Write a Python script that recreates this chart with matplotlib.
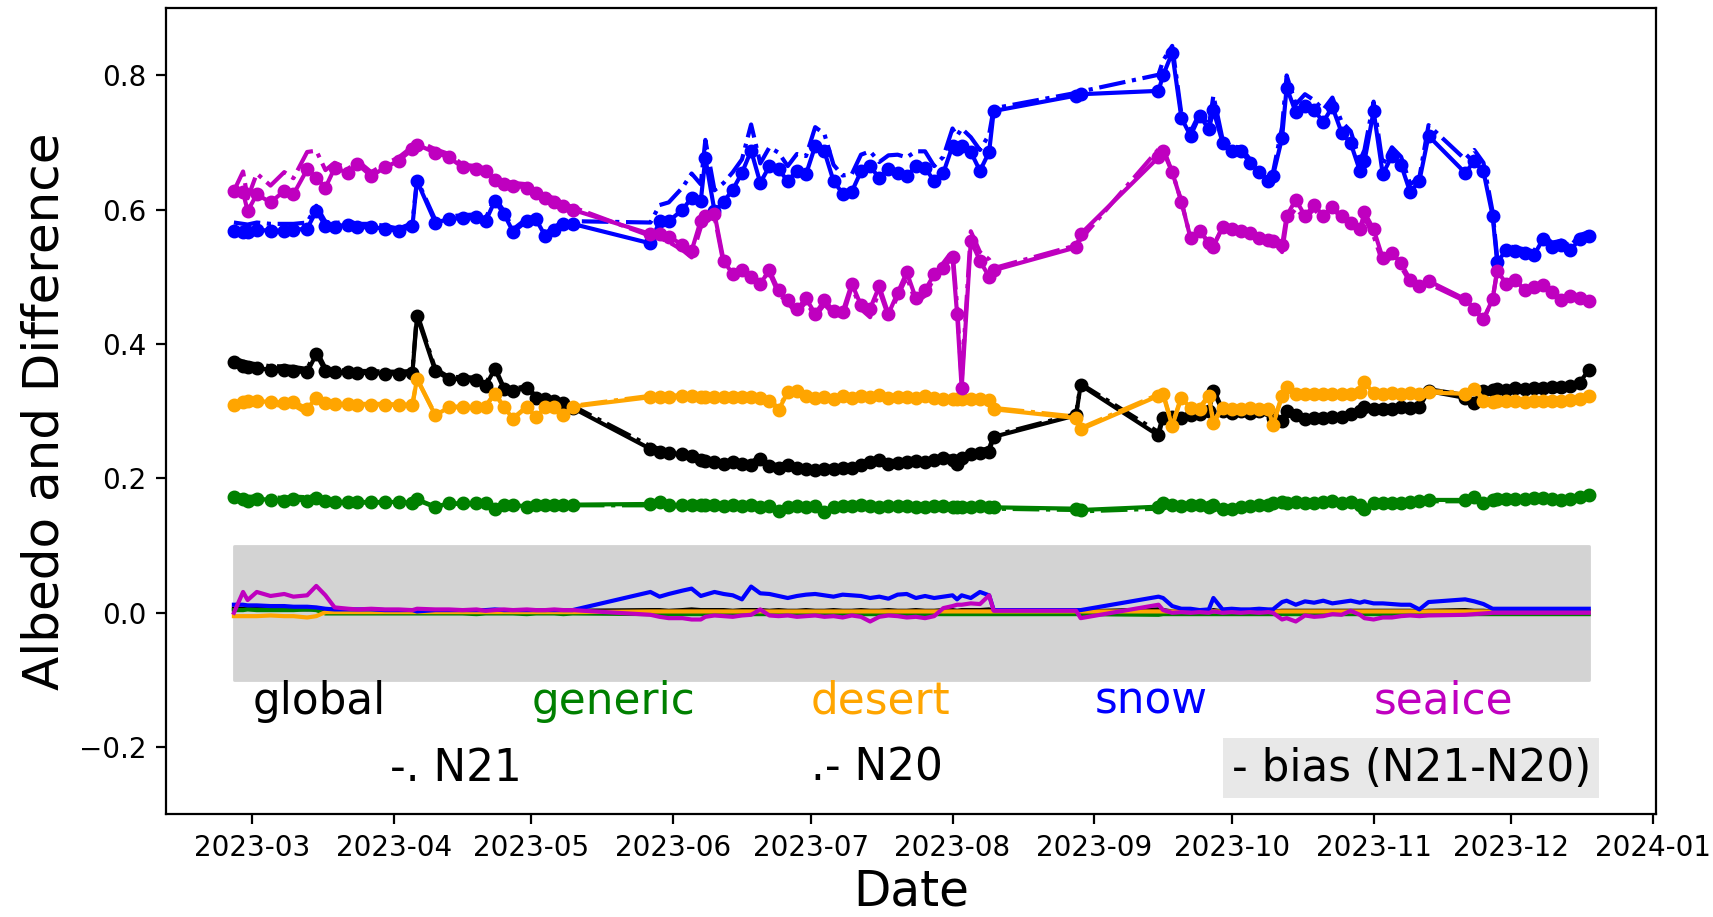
import matplotlib
matplotlib.use("Agg")
import matplotlib.pyplot as plt
import matplotlib.dates as mdates
import numpy as np

# sample dates (2023), grouped by the dense stretches of data
dates_md = [
    # Feb 25 - May 10
    "02-25", "02-27", "02-28", "03-02", "03-05", "03-08", "03-10", "03-13",
    "03-15", "03-17", "03-19", "03-22", "03-24", "03-27", "03-30", "04-02",
    "04-05", "04-06", "04-10", "04-13", "04-16", "04-19", "04-21", "04-23",
    "04-25", "04-27", "04-30", "05-02", "05-04", "05-06", "05-08", "05-10",
    # May 27 - Aug 10
    "05-27", "05-29", "05-31", "06-03", "06-05", "06-07", "06-08", "06-10",
    "06-12", "06-14", "06-16", "06-18", "06-20", "06-22", "06-24", "06-26",
    "06-28", "06-30", "07-02", "07-04", "07-06", "07-08", "07-10", "07-12",
    "07-14", "07-16", "07-18", "07-20", "07-22", "07-24", "07-26", "07-28",
    "07-30", "08-01", "08-02", "08-03", "08-05", "08-07", "08-09", "08-10",
    # end of Aug
    "08-28", "08-29",
    # Sep 15 - Dec 18
    "09-15", "09-16", "09-18", "09-20", "09-22", "09-24", "09-26", "09-27",
    "09-29", "10-01", "10-03", "10-05", "10-07", "10-09", "10-10", "10-12",
    "10-13", "10-15", "10-17", "10-19", "10-21", "10-23", "10-25", "10-27",
    "10-29", "10-30", "11-01", "11-03", "11-05", "11-07", "11-09", "11-11",
    "11-13", "11-21", "11-23", "11-25", "11-27", "11-28", "11-30", "12-02",
    "12-04", "12-06", "12-08", "12-10", "12-12", "12-14", "12-16", "12-18",
]

# N20 albedo per surface type
global_n20 = [
    0.373, 0.368, 0.366, 0.364, 0.362, 0.361, 0.360, 0.358,
    0.385, 0.360, 0.358, 0.358, 0.357, 0.357, 0.356, 0.356,
    0.357, 0.442, 0.360, 0.348, 0.348, 0.347, 0.338, 0.363,
    0.333, 0.330, 0.335, 0.320, 0.318, 0.315, 0.313, 0.305,
    0.244, 0.240, 0.238, 0.236, 0.233, 0.228, 0.226, 0.224,
    0.222, 0.224, 0.221, 0.220, 0.229, 0.218, 0.216, 0.220,
    0.215, 0.214, 0.213, 0.214, 0.214, 0.215, 0.216, 0.220,
    0.224, 0.228, 0.222, 0.223, 0.225, 0.226, 0.224, 0.228,
    0.230, 0.228, 0.222, 0.230, 0.236, 0.238, 0.240, 0.262,
    0.294, 0.339,
    0.264, 0.290, 0.292, 0.290, 0.295, 0.296, 0.300, 0.330,
    0.300, 0.298, 0.300, 0.298, 0.300, 0.302, 0.290, 0.286,
    0.300, 0.295, 0.288, 0.290, 0.290, 0.292, 0.291, 0.296,
    0.300, 0.306, 0.304, 0.303, 0.304, 0.306, 0.305, 0.306,
    0.330, 0.320, 0.312, 0.330, 0.332, 0.333, 0.332, 0.334,
    0.333, 0.335, 0.335, 0.336, 0.336, 0.338, 0.342, 0.362,
]
generic_n20 = [
    0.172, 0.170, 0.167, 0.170, 0.168, 0.167, 0.169, 0.167,
    0.171, 0.166, 0.165, 0.165, 0.165, 0.165, 0.165, 0.165,
    0.164, 0.169, 0.158, 0.163, 0.163, 0.163, 0.164, 0.155,
    0.160, 0.161, 0.158, 0.161, 0.160, 0.161, 0.160, 0.161,
    0.162, 0.165, 0.160, 0.161, 0.160, 0.160, 0.161, 0.160,
    0.159, 0.160, 0.159, 0.160, 0.158, 0.159, 0.152, 0.158,
    0.159, 0.158, 0.159, 0.150, 0.158, 0.159, 0.159, 0.160,
    0.159, 0.158, 0.159, 0.159, 0.159, 0.158, 0.158, 0.159,
    0.159, 0.158, 0.158, 0.158, 0.158, 0.159, 0.158, 0.157,
    0.155, 0.153,
    0.158, 0.163, 0.160, 0.159, 0.161, 0.160, 0.158, 0.160,
    0.155, 0.154, 0.158, 0.159, 0.160, 0.160, 0.164, 0.165,
    0.164, 0.165, 0.164, 0.163, 0.165, 0.166, 0.163, 0.165,
    0.160, 0.154, 0.163, 0.164, 0.163, 0.164, 0.165, 0.166,
    0.168, 0.168, 0.172, 0.163, 0.168, 0.169, 0.170, 0.170,
    0.170, 0.171, 0.171, 0.170, 0.168, 0.170, 0.172, 0.175,
]
desert_n20 = [
    0.309, 0.314, 0.316, 0.315, 0.314, 0.313, 0.314, 0.304,
    0.320, 0.312, 0.311, 0.311, 0.310, 0.310, 0.310, 0.309,
    0.309, 0.348, 0.294, 0.306, 0.306, 0.306, 0.307, 0.326,
    0.306, 0.289, 0.306, 0.291, 0.306, 0.306, 0.294, 0.307,
    0.321, 0.321, 0.321, 0.322, 0.322, 0.321, 0.321, 0.321,
    0.321, 0.321, 0.321, 0.321, 0.320, 0.316, 0.302, 0.328,
    0.330, 0.322, 0.320, 0.321, 0.318, 0.322, 0.320, 0.322,
    0.321, 0.324, 0.320, 0.321, 0.321, 0.320, 0.322, 0.320,
    0.318, 0.318, 0.319, 0.318, 0.318, 0.318, 0.317, 0.303,
    0.290, 0.273,
    0.323, 0.325, 0.278, 0.320, 0.305, 0.304, 0.322, 0.282,
    0.305, 0.304, 0.304, 0.305, 0.304, 0.304, 0.279, 0.322,
    0.336, 0.326, 0.326, 0.325, 0.326, 0.326, 0.325, 0.326,
    0.328, 0.343, 0.327, 0.326, 0.327, 0.326, 0.327, 0.326,
    0.328, 0.326, 0.333, 0.316, 0.314, 0.315, 0.315, 0.315,
    0.314, 0.315, 0.316, 0.316, 0.316, 0.317, 0.318, 0.322,
]
snow_n20 = [
    0.569, 0.567, 0.567, 0.570, 0.569, 0.569, 0.570, 0.572,
    0.598, 0.576, 0.575, 0.578, 0.574, 0.574, 0.572, 0.568,
    0.576, 0.643, 0.581, 0.586, 0.588, 0.589, 0.583, 0.613,
    0.594, 0.567, 0.583, 0.586, 0.561, 0.570, 0.579, 0.579,
    0.550, 0.583, 0.583, 0.600, 0.618, 0.613, 0.677, 0.598,
    0.612, 0.630, 0.655, 0.688, 0.640, 0.665, 0.660, 0.643,
    0.658, 0.653, 0.695, 0.687, 0.643, 0.624, 0.627, 0.657,
    0.665, 0.647, 0.660, 0.655, 0.650, 0.665, 0.662, 0.643,
    0.655, 0.695, 0.690, 0.695, 0.686, 0.658, 0.686, 0.747,
    0.770, 0.772,
    0.777, 0.800, 0.834, 0.737, 0.710, 0.740, 0.720, 0.748,
    0.700, 0.688, 0.688, 0.670, 0.656, 0.643, 0.650, 0.707,
    0.782, 0.745, 0.755, 0.748, 0.731, 0.753, 0.715, 0.699,
    0.658, 0.672, 0.747, 0.653, 0.680, 0.667, 0.626, 0.643,
    0.710, 0.655, 0.672, 0.657, 0.591, 0.522, 0.540, 0.538,
    0.535, 0.532, 0.556, 0.545, 0.548, 0.540, 0.556, 0.561,
]
seaice_n20 = [
    0.628, 0.626, 0.598, 0.623, 0.611, 0.628, 0.623, 0.660,
    0.648, 0.633, 0.662, 0.655, 0.668, 0.650, 0.663, 0.673,
    0.690, 0.697, 0.685, 0.678, 0.663, 0.660, 0.658, 0.645,
    0.638, 0.636, 0.633, 0.625, 0.618, 0.612, 0.605, 0.600,
    0.564, 0.564, 0.560, 0.548, 0.539, 0.584, 0.590, 0.594,
    0.524, 0.504, 0.510, 0.500, 0.490, 0.510, 0.480, 0.465,
    0.452, 0.468, 0.445, 0.465, 0.450, 0.448, 0.490, 0.458,
    0.453, 0.486, 0.445, 0.476, 0.507, 0.468, 0.480, 0.504,
    0.514, 0.529, 0.445, 0.334, 0.554, 0.524, 0.500, 0.510,
    0.544, 0.564,
    0.678, 0.688, 0.656, 0.612, 0.558, 0.569, 0.550, 0.545,
    0.574, 0.571, 0.569, 0.565, 0.558, 0.555, 0.553, 0.547,
    0.591, 0.615, 0.591, 0.607, 0.591, 0.604, 0.591, 0.580,
    0.571, 0.596, 0.571, 0.528, 0.536, 0.520, 0.496, 0.487,
    0.494, 0.467, 0.453, 0.437, 0.467, 0.509, 0.490, 0.496,
    0.480, 0.485, 0.488, 0.478, 0.466, 0.472, 0.468, 0.464,
]

# bias N21 - N20 per surface type
global_bias = [
    0.006, 0.006, 0.006, 0.006, 0.005, 0.006, 0.006, 0.005,
    0.006, 0.004, 0.003, 0.003, 0.003, 0.003, 0.003, 0.003,
    0.003, 0.004, 0.003, 0.003, 0.003, 0.003, 0.003, 0.003,
    0.002, 0.003, 0.003, 0.002, 0.003, 0.003, 0.002, 0.003,
    0.004, 0.004, 0.003, 0.004, 0.005, 0.004, 0.004, 0.004,
    0.004, 0.003, 0.004, 0.004, 0.004, 0.003, 0.004, 0.003,
    0.003, 0.004, 0.003, 0.003, 0.004, 0.003, 0.003, 0.004,
    0.003, 0.003, 0.004, 0.003, 0.003, 0.004, 0.003, 0.003,
    0.004, 0.004, 0.003, 0.004, 0.004, 0.004, 0.005, 0.002,
    0.002, 0.002,
    0.005, 0.004, 0.002, 0.002, 0.002, 0.002, 0.002, 0.004,
    0.002, 0.002, 0.002, 0.002, 0.002, 0.002, 0.002, 0.003,
    0.003, 0.003, 0.003, 0.003, 0.003, 0.003, 0.003, 0.003,
    0.003, 0.003, 0.003, 0.003, 0.003, 0.003, 0.003, 0.002,
    0.003, 0.004, 0.003, 0.003, 0.002, 0.002, 0.002, 0.002,
    0.002, 0.002, 0.002, 0.002, 0.002, 0.002, 0.002, 0.002,
]
generic_bias = [
    0.004, 0.004, 0.005, 0.004, 0.004, 0.004, 0.004, 0.005,
    0.004, -0.001, -0.001, -0.001, -0.001, -0.001, -0.001, -0.001,
    -0.001, -0.001, -0.001, -0.001, -0.001, -0.002, -0.001, -0.001,
    -0.001, -0.001, -0.002, -0.001, -0.001, -0.001, -0.002, -0.001,
    -0.002, -0.002, -0.002, -0.002, -0.002, -0.002, -0.002, -0.002,
    -0.002, -0.002, -0.002, -0.002, -0.002, -0.002, -0.002, -0.002,
    -0.002, -0.002, -0.002, -0.002, -0.002, -0.002, -0.002, -0.002,
    -0.002, -0.002, -0.002, -0.002, -0.002, -0.002, -0.002, -0.002,
    -0.002, -0.002, -0.002, -0.002, -0.002, -0.002, -0.002, -0.002,
    -0.002, -0.002,
    -0.003, -0.002, -0.002, -0.002, -0.002, -0.002, -0.002, -0.002,
    -0.002, -0.002, -0.002, -0.002, -0.002, -0.002, -0.002, -0.002,
    -0.002, -0.002, -0.002, -0.002, -0.002, -0.002, -0.002, -0.002,
    -0.002, -0.002, -0.002, -0.002, -0.002, -0.002, -0.002, -0.002,
    -0.002, -0.002, -0.002, -0.002, -0.002, -0.002, -0.002, -0.002,
    -0.002, -0.002, -0.002, -0.002, -0.002, -0.002, -0.002, -0.002,
]
desert_bias = [
    -0.005, -0.005, -0.005, -0.005, -0.004, -0.005, -0.005, -0.007,
    -0.005, 0.001, 0.001, 0.001, 0.001, 0.001, 0.001, 0.001,
    0.001, 0.001, 0.001, 0.001, 0.001, 0.001, 0.001, 0.001,
    0.001, 0.001, 0.001, 0.001, 0.001, 0.001, 0.001, 0.001,
    0.002, 0.002, 0.002, 0.002, 0.002, 0.002, 0.002, 0.002,
    0.002, 0.002, 0.002, 0.002, 0.002, 0.002, 0.002, 0.002,
    0.002, 0.002, 0.002, 0.002, 0.002, 0.002, 0.002, 0.002,
    0.002, 0.002, 0.002, 0.002, 0.002, 0.002, 0.002, 0.002,
    0.002, 0.002, 0.002, 0.002, 0.002, 0.002, 0.002, 0.002,
    0.002, 0.002,
    0.002, 0.002, 0.002, 0.002, 0.002, 0.002, 0.002, 0.002,
    0.002, 0.002, 0.002, 0.002, 0.002, 0.002, 0.002, 0.002,
    0.002, 0.002, 0.002, 0.002, 0.002, 0.002, 0.002, 0.002,
    0.002, 0.002, 0.002, 0.002, 0.002, 0.002, 0.002, 0.002,
    0.002, 0.002, 0.002, 0.002, 0.002, 0.002, 0.002, 0.002,
    0.002, 0.002, 0.002, 0.002, 0.002, 0.002, 0.002, 0.002,
]
snow_bias = [
    0.012, 0.012, 0.011, 0.011, 0.010, 0.010, 0.009, 0.009,
    0.008, 0.006, 0.005, 0.005, 0.005, 0.005, 0.004, 0.004,
    0.004, 0.002, 0.004, 0.004, 0.004, 0.004, 0.004, 0.005,
    0.004, 0.004, 0.004, 0.004, 0.004, 0.004, 0.004, 0.004,
    0.031, 0.024, 0.028, 0.033, 0.036, 0.025, 0.027, 0.031,
    0.028, 0.026, 0.020, 0.039, 0.029, 0.028, 0.025, 0.022,
    0.025, 0.027, 0.028, 0.026, 0.024, 0.027, 0.026, 0.025,
    0.022, 0.024, 0.021, 0.027, 0.028, 0.022, 0.025, 0.022,
    0.024, 0.026, 0.020, 0.026, 0.022, 0.031, 0.026, 0.004,
    0.004, 0.004,
    0.024, 0.022, 0.010, 0.006, 0.006, 0.004, 0.005, 0.022,
    0.005, 0.006, 0.005, 0.005, 0.006, 0.005, 0.005, 0.016,
    0.018, 0.012, 0.017, 0.015, 0.018, 0.014, 0.016, 0.018,
    0.015, 0.017, 0.014, 0.014, 0.013, 0.012, 0.012, 0.005,
    0.016, 0.020, 0.017, 0.013, 0.006, 0.006, 0.006, 0.006,
    0.006, 0.006, 0.006, 0.006, 0.006, 0.006, 0.006, 0.006,
]
seaice_bias = [
    0.000, 0.031, 0.019, 0.031, 0.025, 0.028, 0.024, 0.026,
    0.040, 0.026, 0.008, 0.006, 0.005, 0.006, 0.005, 0.005,
    0.004, 0.006, 0.005, 0.005, 0.004, 0.005, 0.003, 0.004,
    0.005, 0.004, 0.005, 0.004, 0.004, 0.005, 0.004, 0.004,
    -0.003, -0.006, -0.008, -0.008, -0.010, -0.010, -0.006, -0.004,
    -0.005, -0.006, -0.004, -0.003, 0.005, -0.004, -0.005, -0.004,
    -0.006, -0.005, -0.004, -0.006, -0.005, -0.007, -0.004, -0.006,
    -0.013, -0.006, -0.004, -0.005, -0.007, -0.006, -0.008, -0.005,
    0.007, 0.010, 0.012, 0.012, 0.014, 0.013, 0.026, 0.003,
    0.003, -0.008,
    0.012, 0.004, 0.000, 0.001, 0.000, 0.001, 0.000, 0.002,
    0.000, 0.001, 0.000, 0.001, 0.000, 0.001, 0.000, -0.010,
    -0.008, -0.013, -0.004, -0.006, -0.005, -0.002, -0.003, 0.003,
    -0.003, -0.008, -0.010, -0.007, -0.007, -0.005, -0.004, -0.005,
    -0.004, -0.003, -0.002, -0.001, 0.000, 0.000, 0.000, 0.000,
    0.000, 0.000, 0.000, 0.000, 0.000, 0.000, 0.000, 0.000,
]

surfaces = ["global", "generic", "desert", "snow", "seaice"]
colors = ["k", "g", "orange", "b", "m"]
label_months = ["2023-03-01", "2023-05-01", "2023-07-01", "2023-09-01", "2023-11-01"]

dates = np.array(["2023-" + d for d in dates_md], dtype="datetime64[D]")
n20 = [global_n20, generic_n20, desert_n20, snow_n20, seaice_n20]
bias = [global_bias, generic_bias, desert_bias, snow_bias, seaice_bias]

fig = plt.figure(figsize=(17.13 / 2, 9.17 / 2), dpi=200)
ax = fig.add_axes([0.097, 0.112, 0.870, 0.879])

# shaded band where the bias lines live
ax.fill_between([dates[0], dates[-1]], -0.1, 0.1, color="lightgray", zorder=0)

for name, c, v20, b in zip(surfaces, colors, n20, bias):
    v20 = np.array(v20)
    b = np.array(b)
    ax.plot(dates, v20 + b, "-.", color=c)          # N21
    ax.plot(dates, v20, ".-", color=c, ms=8)        # N20
    ax.plot(dates, b, "-", color=c)                 # bias

for name, c, m in zip(surfaces, colors, label_months):
    ax.text(np.datetime64(m), -0.15, name, color=c, fontsize=15.75)

ax.text(np.datetime64("2023-03-31"), -0.25, "-. N21", fontsize=15.75)
ax.text(np.datetime64("2023-07-01"), -0.25, ".- N20", fontsize=15.75)
ax.text(np.datetime64("2023-10-01"), -0.25, "- bias (N21-N20)", fontsize=15.75,
        bbox=dict(facecolor="lightgray", alpha=0.5, edgecolor="none", pad=3))

ax.set_ylim(-0.3, 0.9)
ax.xaxis.set_major_locator(mdates.MonthLocator())
ax.xaxis.set_major_formatter(mdates.DateFormatter("%Y-%m"))
ax.set_xlabel("Date", fontsize=17.5, labelpad=2)
ax.set_ylabel("Albedo and Difference", fontsize=18)

fig.savefig("out.png", dpi=200)
